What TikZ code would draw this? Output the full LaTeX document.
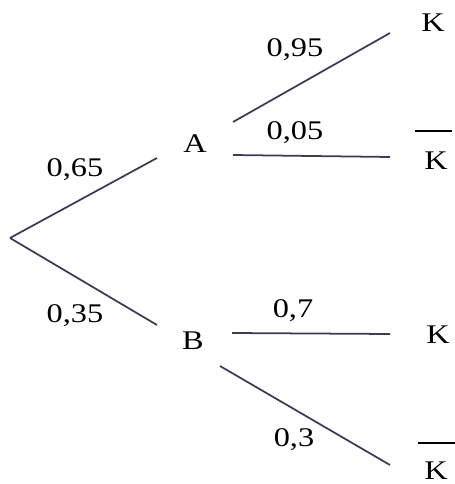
\documentclass[tikz,border=0pt]{standalone}
\usepackage{fontspec}
\setmainfont{Liberation Serif}
\usetikzlibrary{positioning, calc}
\definecolor{mybranch}{RGB}{60,60,85}
\tikzset{
  branch/.style={line width=1.5pt, color=mybranch},
  event/.style={font=\fontsize{23}{27}\selectfont, inner sep=0pt, transform shape, xscale=1.2},
  prob/.style={font=\fontsize{23}{27}\selectfont, inner sep=0pt, transform shape, xscale=1.2},
  negbar/.style={line width=1.2pt, color=black}
}

\begin{document}
\begin{tikzpicture}[x=0.03cm, y=-0.03cm]
  \useasboundingbox (0,0) rectangle (454,484);

  % Root and first stage
  \coordinate (root) at (10,238);
  \node[event] (A) at (195,144) {A};
  \node[event] (B) at (193,341) {B};
  \coordinate (A-in) at (157,158);
  \coordinate (B-in) at (157,325);
  \draw[branch] (root) -- (A-in);
  \draw[branch] (root) -- (B-in);
  \node[prob] (pA) at (75,170) {0,65};
  \node[prob] (pB) at (75,316) {0,35};

  % Second stage after A
  \coordinate (A-out1) at (233,122);
  \coordinate (A-out2) at (233,155);
  \coordinate (K1-in) at (390,33);
  \coordinate (K2-in) at (390,157);
  \node[event] (K1) at (433,23) {K};
  \node[event] (K2) at (436,161) {K};
  \draw[negbar] (415,131) -- (452,131);
  \draw[branch] (A-out1) -- (K1-in);
  \draw[branch] (A-out2) -- (K2-in);
  \node[prob] (pK1) at (295,50) {0,95};
  \node[prob] (pK2) at (295,133) {0,05};

  % Second stage after B
  \coordinate (B-out1) at (232,333);
  \coordinate (B-out2) at (220,366);
  \coordinate (K3-in) at (390,334);
  \coordinate (K4-in) at (390,465);
  \node[event] (K3) at (438,335) {K};
  \node[event] (K4) at (436,471) {K};
  \draw[negbar] (418,443) -- (455,443);
  \draw[branch] (B-out1) -- (K3-in);
  \draw[branch] (B-out2) -- (K4-in);
  \node[prob] (pK3) at (293,311) {0,7};
  \node[prob] (pK4) at (294,440) {0,3};
\end{tikzpicture}
\end{document}
